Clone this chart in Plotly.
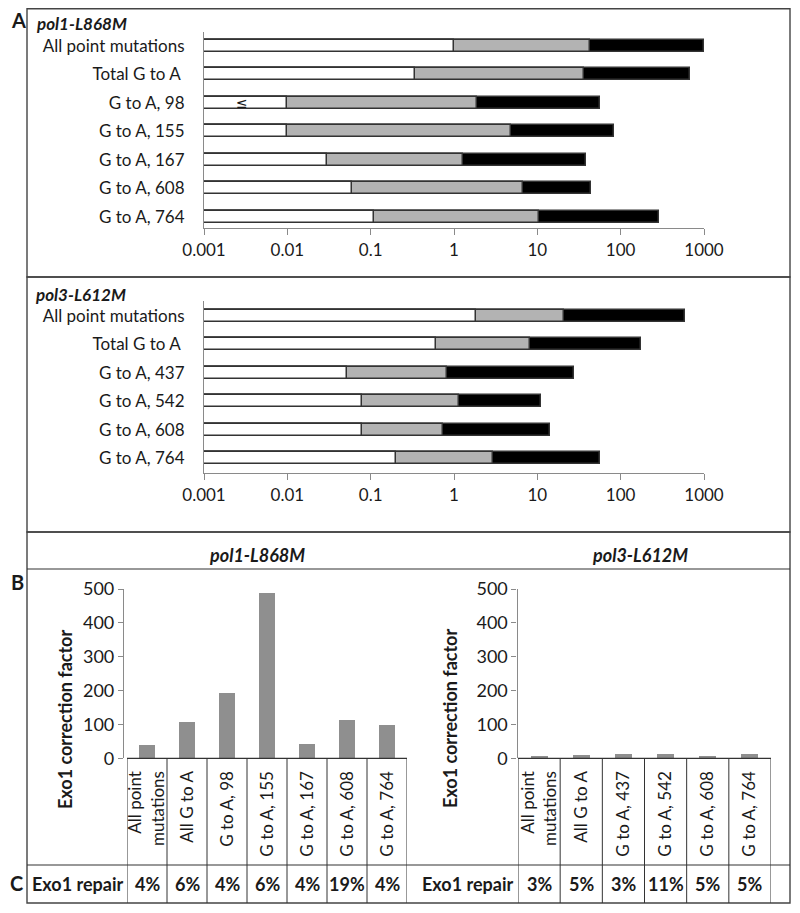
import plotly.graph_objects as go

W, H = 800, 913
OFF = 8  # page body margin in the browser
def px(x): return (x - OFF) / W
def py(y): return 1 - (y - OFF) / H

# ---------------- data ----------------
cats_a1 = ["All point mutations", "Total G to A ", "G to A, 98", "G to A, 155",
           "G to A, 167", "G to A, 608", "G to A, 764"]
white_a1 = [1.0, 0.34, 0.01, 0.01, 0.030, 0.059, 0.11]
gray_a1 = [43, 36, 1.87, 4.8, 1.29, 6.7, 10.4]
black_a1 = [1000, 680, 56, 84, 38, 44, 290]

cats_a2 = ["All point mutations", "Total G to A ", "G to A, 437", "G to A, 542",
           "G to A, 608", "G to A, 764"]
white_a2 = [1.84, 0.61, 0.052, 0.078, 0.078, 0.20]
gray_a2 = [21, 8.2, 0.82, 1.14, 0.74, 2.96]
black_a2 = [590, 174, 27.5, 11.2, 14.2, 56]

log_ticks = [0.001, 0.01, 0.1, 1, 10, 100, 1000]
log_ticktext = ["0.001", "0.01", "0.1", "1", "10", "100", "1000"]

cats_b1 = ["All point<br>mutations", "All G to A", "G to A, 98", "G to A, 155",
           "G to A, 167", "G to A, 608", "G to A, 764"]
corr_b1 = [40, 108, 194, 487, 42, 113, 97]
repair_b1 = ["4%", "6%", "4%", "6%", "4%", "19%", "4%"]

cats_b2 = ["All point<br>mutations", "All G to A", "G to A, 437", "G to A, 542",
           "G to A, 608", "G to A, 764"]
corr_b2 = [8, 11, 14, 12, 7, 12]
repair_b2 = ["3%", "5%", "3%", "11%", "5%", "5%"]

FONT = "Lato"
TXT = "#1a1a1a"
AX = "#8a8a8a"
BASE = 0.001

fig = go.Figure()

def add_a(cats, white, gray, black, xa, ya):
    for vals, col in ((black, "#000000"), (gray, "#b3b3b3"), (white, "#ffffff")):
        fig.add_trace(go.Bar(
            y=cats, x=[v - BASE for v in vals], base=[BASE] * len(vals),
            orientation="h", width=0.42, xaxis=xa, yaxis=ya,
            marker=dict(color=col, line=dict(color="#333333", width=1.5)),
            showlegend=False))

add_a(cats_a1, white_a1, gray_a1, black_a1, "x", "y")
add_a(cats_a2, white_a2, gray_a2, black_a2, "x2", "y2")

fig.add_trace(go.Bar(x=list(range(len(cats_b1))), y=corr_b1, width=0.4,
                     marker=dict(color="#8f8f8f", line=dict(width=0)),
                     xaxis="x3", yaxis="y3", showlegend=False))
fig.add_trace(go.Bar(x=list(range(len(cats_b2))), y=corr_b2, width=0.4,
                     marker=dict(color="#8f8f8f", line=dict(width=0)),
                     xaxis="x4", yaxis="y4", showlegend=False))

tickfont = dict(family=FONT, size=17, color=TXT)

def log_x(domain, anchor):
    return dict(domain=domain, type="log", range=[-3, 3], anchor=anchor,
                tickvals=log_ticks, ticktext=log_ticktext, showgrid=False,
                zeroline=False, showline=True, linecolor=AX, linewidth=1.2,
                ticks="outside", ticklen=6, tickcolor=AX, tickfont=tickfont,
                automargin=False)

def cat_y(domain, anchor, rng):
    return dict(domain=domain, anchor=anchor, range=rng, showgrid=False,
                zeroline=False, showline=True, linecolor=AX, linewidth=1.2,
                ticks="outside", ticklen=15, tickcolor="rgba(0,0,0,0)",
                tickfont=tickfont, automargin=False)

def b_x(domain, anchor, cats):
    return dict(domain=domain, anchor=anchor, range=[-0.5, len(cats) - 0.5],
                tickvals=list(range(len(cats))), ticktext=cats, tickangle=-90,
                showgrid=False, zeroline=False, showline=False,
                ticks="outside", ticklen=5, tickcolor="rgba(0,0,0,0)",
                tickfont=tickfont, automargin=False)

def b_y(domain, pos):
    return dict(domain=domain, anchor="free", position=pos, range=[0, 500],
                dtick=100, showgrid=False, zeroline=False, showline=True,
                linecolor=AX, linewidth=1.2, ticks="outside", ticklen=5,
                tickcolor=AX, tickfont=dict(family=FONT, size=18, color=TXT),
                automargin=False)

fig.update_layout(
    width=W, height=H,
    margin=dict(l=0, r=0, t=0, b=0, pad=0, autoexpand=False),
    paper_bgcolor="white", plot_bgcolor="rgba(0,0,0,0)",
    barmode="overlay", bargap=0, showlegend=False,
    xaxis=log_x([px(204), px(704)], "y"),
    yaxis=cat_y([py(228), py(32)], "x", [6.39, -0.49]),
    xaxis2=log_x([px(204), px(704)], "y2"),
    yaxis2=cat_y([py(473), py(301)], "x2", [5.53, -0.53]),
    xaxis3=b_x([px(127), px(407)], "y3", cats_b1),
    yaxis3=b_y([py(758.3), py(589)], px(123)),
    xaxis4=b_x([px(518), px(771)], "y4", cats_b2),
    yaxis4=b_y([py(758.3), py(589)], px(516.5)),
)

shapes = []
def line(x0, y0, x1, y1, xref="paper", w=1.2, c="#333333"):
    shapes.append(dict(type="line", xref=xref, yref="paper",
                       x0=x0, x1=x1, y0=py(y0), y1=py(y1),
                       line=dict(color=c, width=w)))

# panel boxes
for (t, b) in ((8.8, 277), (277, 532), (532, 903)):
    shapes.append(dict(type="rect", xref="paper", yref="paper",
                       x0=px(27), x1=px(790), y0=py(b), y1=py(t),
                       line=dict(color="#444444", width=1.4)))
line(px(27), 569, px(790), 569)
line(px(27), 865, px(790), 865)

# table grids under B charts
for xa, n in (("x3", len(cats_b1)), ("x4", len(cats_b2))):
    for i in range(n + 1):
        line(i - 0.5, 758.3, i - 0.5, 903, xref=xa, w=1)
    line(-0.5, 758.3, n - 0.5, 758.3, xref=xa, w=1.2)

fig.update_layout(shapes=shapes)

ann = []
def text(x, y, s, size=16, bold=False, italic=False, xanchor="center",
         xref="paper", yref="paper", angle=0, family=FONT):
    t = s
    if bold:
        t = "<b>" + t + "</b>"
    if italic:
        t = "<i>" + t + "</i>"
    ann.append(dict(x=x, y=y, xref=xref, yref=yref, text=t, showarrow=False,
                    xanchor=xanchor, yanchor="middle", textangle=angle,
                    font=dict(family=family, size=size, color=TXT)))

text(px(9), py(20), "A", size=20, bold=True, xanchor="left")
text(px(9), py(582), "B", size=20, bold=True, xanchor="left")
text(px(8), py(883), "C", size=20, bold=True, xanchor="left")

text(px(34), py(24), "pol1-L868M", size=17, bold=True, italic=True, xanchor="left")
text(px(33), py(295), "pol3-L612M", size=17, bold=True, italic=True, xanchor="left")
text(px(257), py(555), "pol1-L868M", size=18, bold=True, italic=True)
text(px(640), py(555), "pol3-L612M", size=18, bold=True, italic=True)

# "≤" marker on G to A, 98
text(-2.54, "G to A, 98", "≤", size=14, xref="x", yref="y", family="DejaVu Sans")

text(px(65), py(719), "Exo1 correction factor", size=18, bold=True, angle=-90)
text(px(450), py(719), "Exo1 correction factor", size=18, bold=True, angle=-90)

text(px(77), py(884), "Exo1 repair", size=18, bold=True)
text(px(467), py(884), "Exo1 repair", size=18, bold=True)
for i, s in enumerate(repair_b1):
    text(i, py(884), s, size=18, bold=True, xref="x3")
for i, s in enumerate(repair_b2):
    text(i, py(884), s, size=18, bold=True, xref="x4")

fig.update_layout(annotations=ann)

fig.write_html("out.html")
